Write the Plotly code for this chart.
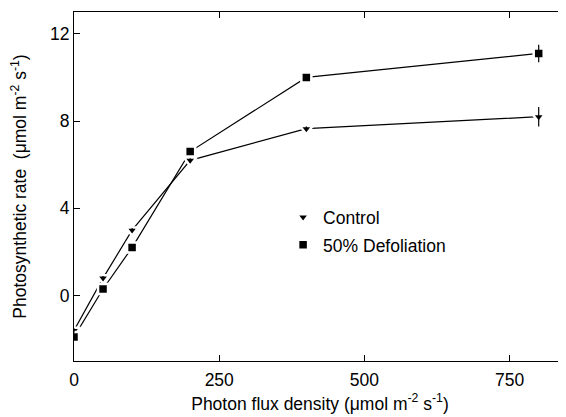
import plotly.graph_objects as go

ppfd = [0, 50, 100, 200, 400, 800]
control = [-1.6, 0.8, 3.0, 6.2, 7.65, 8.2]
control_err = [0.1, 0.1, 0.1, 0.1, 0.1, 0.45]
defol = [-1.9, 0.3, 2.2, 6.6, 10.0, 11.1]
defol_err = [0.1, 0.1, 0.1, 0.1, 0.1, 0.4]
x_ticks = [0, 250, 500, 750]
y_ticks = [0, 4, 8, 12]

FONT = "Liberation Sans, Arial, sans-serif"
FS = 17.5
fig = go.Figure()

for ys in (control, defol):
    fig.add_trace(go.Scatter(x=ppfd, y=ys, mode="lines", showlegend=False,
                             line=dict(color="black", width=1.2), hoverinfo="skip"))

fig.add_trace(go.Scatter(x=ppfd, y=control, mode="markers", name="Control", legendgroup="a",
                         marker=dict(symbol="triangle-down", size=11, color="black",
                                     line=dict(color="white", width=2.5))))
fig.add_trace(go.Scatter(x=ppfd, y=defol, mode="markers", name="50% Defoliation", legendgroup="b",
                         marker=dict(symbol="square", size=10, color="black",
                                     line=dict(color="white", width=2.5))))

for ys, es in ((control, control_err), (defol, defol_err)):
    fig.add_trace(go.Scatter(x=ppfd, y=ys, mode="markers", showlegend=False,
                             marker=dict(size=0.1, color="black"), hoverinfo="skip",
                             error_y=dict(type="data", array=es, visible=True,
                                          color="black", thickness=1.2, width=0)))

axis_common = dict(showline=True, linecolor="black", linewidth=1.2, mirror="ticks",
                   ticks="inside", ticklen=6, tickwidth=1.2, tickcolor="black",
                   showgrid=False, zeroline=False,
                   tickfont=dict(family=FONT, size=FS, color="black"))

# the page body adds an 8px offset, so the figure is sized to end at the window edge
fig.update_layout(
    width=558, height=409,
    margin=dict(l=66, r=0, t=4, b=56),
    paper_bgcolor="white", plot_bgcolor="white",
    font=dict(family=FONT, size=FS, color="black"),
    xaxis=dict(range=[0, 847], tickvals=x_ticks, ticklabelstandoff=3,
               title=dict(text="Photon flux density (\u03bcmol m<sup>-2</sup> s<sup>-1</sup>)",
                          font=dict(size=FS), standoff=8),
               **axis_common),
    yaxis=dict(range=[-3, 13], tickvals=y_ticks,
               title=dict(text="Photosynthetic rate  (\u03bcmol m<sup>-2</sup> s<sup>-1</sup>)",
                          font=dict(size=FS), standoff=18),
               **axis_common),
    legend=dict(x=0.425, y=0.464, xanchor="left", yanchor="top",
                bgcolor="rgba(0,0,0,0)", traceorder="grouped", tracegroupgap=2,
                font=dict(family=FONT, size=FS)),
    showlegend=True,
)

fig.write_html("out.html")
